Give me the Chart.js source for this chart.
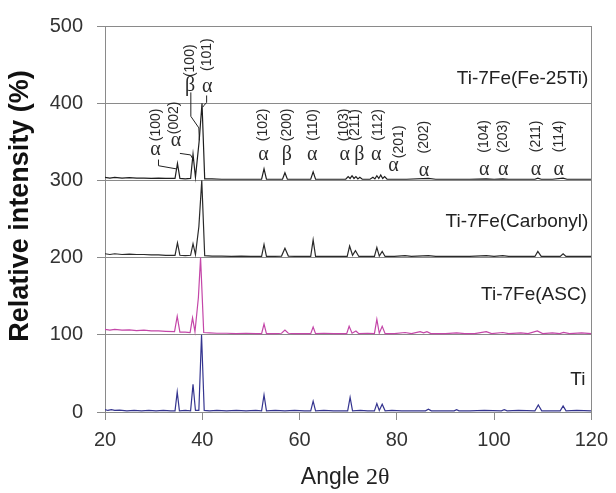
<!DOCTYPE html>
<html>
<head>
<meta charset="utf-8">
<script src="https://cdn.jsdelivr.net/npm/chart.js@4.4.0/dist/chart.umd.min.js"></script>
<style>
  body { margin: 0; background: #fff; }
  canvas { display: block; }
</style>
</head>
<body>
<canvas id="xrdChart" width="616" height="493"></canvas>
<script>
// XRD scans as [2θ, relative intensity %], each normalised to its strongest peak
const tiScan = [[20,3],[20.6,2],[21.3,3],[22,2],[23,2.5],[24.5,1.5],[26,2],[27.5,1.5],[29,2],[30.5,1.5],[32,2],[33.5,1.5],[34.4,1.5],[34.85,26],[35.3,1.5],[36.5,2],[37.6,1.5],[38.1,36],[38.6,2],[39.3,2],[39.85,100],[40.4,2],[41.5,1.5],[43,2],[45,1.5],[47,2],[49,1.5],[51,2],[52.2,1.5],[52.7,22],[53.2,1.5],[55,2],[57,1.5],[59,2],[61,1.5],[62.3,1.5],[62.8,14],[63.3,1.5],[65,2],[67,1.5],[69.9,1.5],[70.4,19],[70.9,1.5],[72.5,2],[74,1.5],[75.4,1.5],[75.9,11],[76.4,2],[77,10],[77.6,1.5],[79,2],[81,1.5],[83,1.5],[85.9,1.5],[86.5,3.5],[87.1,1.5],[89,1.5],[91.8,1.5],[92.3,3],[92.8,1.5],[95,1.5],[98,2],[101.5,1.5],[102.1,3],[102.7,1.5],[105,2],[108.4,1.5],[109.1,9],[109.8,1.5],[112,1.5],[113.6,1.5],[114.2,8],[114.8,1.5],[117,2],[120,1.5]];

const ascScan = [[20,7],[21,6],[22,7],[23.5,6],[25,6.5],[26.5,5.5],[28,6],[29.5,5],[31,5],[32.5,4.5],[34.3,4],[34.85,24],[35.4,3.5],[36.5,3.5],[37.5,3],[38,22],[38.5,4],[39.2,48],[39.65,100],[40.3,3],[41.5,2.5],[43,2],[45,2],[47,1.5],[49,2],[51,1.5],[52.2,1.5],[52.7,14],[53.2,1.5],[55,1.5],[56.3,2],[57,6],[57.7,2],[59,1.5],[61,1.5],[62.3,1.5],[62.8,10],[63.3,1.5],[65,2],[67,1.5],[69.7,1.5],[70.2,11],[70.8,2],[71.6,5],[72.2,1.5],[74,2],[75.4,1.5],[75.9,20],[76.4,2],[77,11],[77.6,1.5],[79.5,1.5],[81.7,3],[83,1.5],[84.8,4],[85.5,2.5],[86.2,4],[87,1.5],[90,1.5],[92.3,2.5],[94,1.5],[96,1.5],[98.4,4],[99.5,1.5],[101.8,3],[103,1.5],[105.5,2.5],[107,1.5],[108.9,5],[110,1.5],[112,2.5],[113.5,1.5],[114.3,3],[115.5,1.5],[118,2.5],[120,1.5]];

const carbonylScan = [[20,5],[21,4],[22,5],[23.5,4],[25,4.5],[26.5,4],[28,4],[29.5,3.5],[31,3.5],[32.5,3],[34.4,3],[34.9,19],[35.4,3],[36.5,2.5],[37.6,3],[38.1,18],[38.6,4],[39.3,40],[39.9,100],[40.5,2.5],[42,2],[44,2],[46,1.5],[48,2],[50,1.5],[52.2,1.5],[52.7,17],[53.2,1.5],[55,1.5],[56.3,2],[57,12],[57.7,2],[59,1.5],[61,1.5],[62.3,1.5],[62.8,23],[63.3,1.5],[65,1.5],[67,1.5],[69.8,1.5],[70.3,15],[70.9,3],[71.5,9],[72.2,1.5],[74,1.5],[75.4,1.5],[75.9,13],[76.4,2],[77,8],[77.6,1.5],[79.5,1.5],[81.7,2.5],[83,1.5],[86.5,2.5],[88,1.5],[92,1.5],[95,1.5],[98.4,2.5],[100,1.5],[101.8,2.5],[103,1.5],[106,1.5],[108.4,1.5],[109,8],[109.7,1.5],[112,1.5],[113.6,1.5],[114.2,5],[114.8,1.5],[117,1.5],[120,1.5]];

const fe25TiScan = [[20,4],[21,3],[22,4],[23.5,3],[25,3.5],[26.5,3],[28,3],[29.5,2.5],[31,3],[32.5,2.5],[34.4,2.5],[34.9,22],[35.4,2.5],[36.5,2],[37.6,2.5],[38.1,34],[38.6,4],[39.35,50],[39.95,100],[40.5,2],[42,2],[44,1.5],[46,1.5],[48,1.5],[50,1.5],[52.2,1.5],[52.7,15],[53.2,1.5],[55,1.5],[56.5,1.5],[57,10],[57.5,1.5],[59,1.5],[61,1.5],[62.3,1.5],[62.8,11],[63.3,1.5],[65,1.5],[67,1.5],[69.5,1.5],[70,5],[70.4,2.5],[70.8,6],[71.2,2.5],[71.6,5],[72,2],[72.4,4],[72.9,1.5],[74.5,1.5],[75.1,4],[75.5,2],[75.9,6],[76.3,2.5],[76.7,7],[77.1,2.5],[77.5,5],[78,1.5],[80,1.5],[82,1.5],[86.5,2.5],[88,1.5],[92,1.5],[95,1.5],[98.4,2],[100,1.5],[101.8,2],[103,1.5],[106,1.5],[108.4,1.5],[109,3],[109.7,1.5],[112,1.5],[114.2,3],[115,1.5],[117,1.5],[120,1.5]];

const sampleNames = ['Ti', 'Ti-7Fe(ASC)', 'Ti-7Fe(Carbonyl)', 'Ti-7Fe(Fe-25Ti)'];
const sampleScans = [tiScan, ascScan, carbonylScan, fe25TiScan];
const sampleOffsets = [0, 100, 200, 300];
const sampleColors = ['#34348f', '#c446a8', '#2a2a2a', '#1e1e1e'];
// where each sample name sits: right edge (2θ), height (%)
const sampleNamePos = [[118.8, 42], [119.1, 152], [119.4, 247], [119.4, 432]];

// phase / reflection markers above the top trace, in data units
const peakLabels = [
  { phase: 'α', plane: '(100)', at: [30.4, 340], hkl: [30.5, 372] },
  { phase: 'α', plane: '(002)', at: [34.6, 351], hkl: [34.3, 381] },
  { phase: 'β', plane: '(100)', at: [37.5, 423], hkl: [37.45, 455] },
  { phase: 'α', plane: '(101)', at: [41.0, 421], hkl: [41.0, 463] },
  { phase: 'α', plane: '(102)', at: [52.6, 333], hkl: [52.6, 372] },
  { phase: 'β', plane: '(200)', at: [57.4, 333], hkl: [57.4, 372] },
  { phase: 'α', plane: '(110)', at: [62.6, 333], hkl: [62.7, 372] },
  { phase: 'α', plane: '(103)', at: [69.3, 333], hkl: [69.2, 372] },
  { phase: 'β', plane: '(211)', at: [72.3, 333], hkl: [71.5, 372] },
  { phase: 'α', plane: '(112)', at: [75.8, 333], hkl: [76.2, 372] },
  { phase: 'α', plane: '(201)', at: [79.3, 319], hkl: [80.5, 350] },
  { phase: 'α', plane: '(202)', at: [85.6, 313], hkl: [85.6, 356] },
  { phase: 'α', plane: '(104)', at: [98.0, 314], hkl: [98.0, 357] },
  { phase: 'α', plane: '(203)', at: [101.9, 314], hkl: [101.9, 357] },
  { phase: 'α', plane: '(211)', at: [108.6, 314], hkl: [108.6, 357] },
  { phase: 'α', plane: '(114)', at: [113.3, 314], hkl: [113.3, 357] }
];

// leader lines from the crowded labels down to their peaks
const leaderLines = [
  [[31.0, 327], [31.0, 319], [34.6, 315]],
  [[35.4, 335], [37.6, 333], [37.95, 329]],
  [[37.65, 414], [37.65, 383], [39.3, 368], [39.4, 352]],
  [[40.9, 410], [40.9, 401], [40.35, 397], [40.1, 395]]
];

const xTicks = [20, 40, 60, 80, 100, 120];

const datasets = sampleScans.map((scan, i) => ({
  label: sampleNames[i],
  data: scan.map(p => ({ x: p[0], y: p[1] + sampleOffsets[i] })),
  borderColor: sampleColors[i],
  borderWidth: 1.2,
  pointRadius: 0,
  tension: 0,
  fill: false
}));

const labelPlugin = {
  id: 'xrdLabels',
  afterDatasetsDraw(chart) {
    const { ctx, scales: { x, y }, chartArea } = chart;
    ctx.save();

    // right-hand frame line
    ctx.strokeStyle = '#8a8a8a';
    ctx.lineWidth = 1;
    ctx.beginPath();
    ctx.moveTo(Math.round(chartArea.right) + 0.5, chartArea.top);
    ctx.lineTo(Math.round(chartArea.right) + 0.5, chartArea.bottom);
    ctx.stroke();

    // leaders
    ctx.strokeStyle = '#222';
    ctx.lineWidth = 1;
    leaderLines.forEach(line => {
      ctx.beginPath();
      line.forEach((p, k) => {
        const px = x.getPixelForValue(p[0]);
        const py = y.getPixelForValue(p[1]);
        if (k === 0) ctx.moveTo(px, py); else ctx.lineTo(px, py);
      });
      ctx.stroke();
    });

    // phase symbols and reflections
    ctx.fillStyle = '#2a2a2a';
    ctx.textAlign = 'center';
    ctx.textBaseline = 'middle';
    peakLabels.forEach(l => {
      ctx.font = '20px "Liberation Serif"';
      ctx.fillText(l.phase, x.getPixelForValue(l.at[0]), y.getPixelForValue(l.at[1]));
      ctx.save();
      ctx.translate(x.getPixelForValue(l.hkl[0]), y.getPixelForValue(l.hkl[1]));
      ctx.rotate(-Math.PI / 2);
      ctx.font = '14px "Liberation Sans"';
      ctx.fillText(l.plane, 0, 0);
      ctx.restore();
    });

    // sample names
    ctx.font = '19px "Liberation Sans"';
    ctx.textAlign = 'right';
    ctx.fillStyle = '#222';
    sampleNames.forEach((name, i) => {
      const pos = sampleNamePos[i];
      ctx.fillText(name, x.getPixelForValue(pos[0]), y.getPixelForValue(pos[1]));
    });

    // axis titles
    ctx.fillStyle = '#111';
    ctx.save();
    ctx.translate(21, 206);
    ctx.rotate(-Math.PI / 2);
    ctx.textAlign = 'center';
    ctx.font = 'bold 27px "Liberation Sans"';
    ctx.fillText('Relative intensity (%)', 0, 0);
    ctx.restore();

    const cx = (chartArea.left + chartArea.right) / 2 - 3;
    ctx.font = '23px "Liberation Sans"';
    const w1 = ctx.measureText('Angle ').width;
    ctx.font = '24px "Liberation Serif"';
    const w2 = ctx.measureText('2θ').width;
    const startX = cx - (w1 + w2) / 2;
    ctx.textAlign = 'left';
    ctx.fillStyle = '#222';
    ctx.font = '23px "Liberation Sans"';
    ctx.fillText('Angle ', startX, 478);
    ctx.font = '24px "Liberation Serif"';
    ctx.fillText('2θ', startX + w1, 478);

    ctx.restore();
  }
};

new Chart(document.getElementById('xrdChart').getContext('2d'), {
  type: 'line',
  data: { datasets: datasets },
  options: {
    responsive: false,
    animation: false,
    layout: { padding: { top: 22, right: 20, left: 0, bottom: 0 } },
    plugins: { legend: { display: false }, tooltip: { enabled: false } },
    scales: {
      x: {
        type: 'linear',
        min: 20,
        max: 120,
        afterBuildTicks: s => { s.ticks = xTicks.map(v => ({ value: v })); },
        afterFit: s => { s.height = 81; },
        grid: { drawOnChartArea: false, tickLength: 8, color: '#8a8a8a' },
        border: { color: '#8a8a8a' },
        ticks: { color: '#333', padding: 8, font: { family: 'Liberation Sans', size: 20 } }
      },
      y: {
        min: 0,
        max: 500,
        afterFit: s => { s.width = 105; },
        grid: { tickLength: 8, color: '#8a8a8a' },
        border: { color: '#8a8a8a' },
        ticks: { stepSize: 100, color: '#333', padding: 14, font: { family: 'Liberation Sans', size: 20 } }
      }
    }
  },
  plugins: [labelPlugin]
});
</script>
</body>
</html>
